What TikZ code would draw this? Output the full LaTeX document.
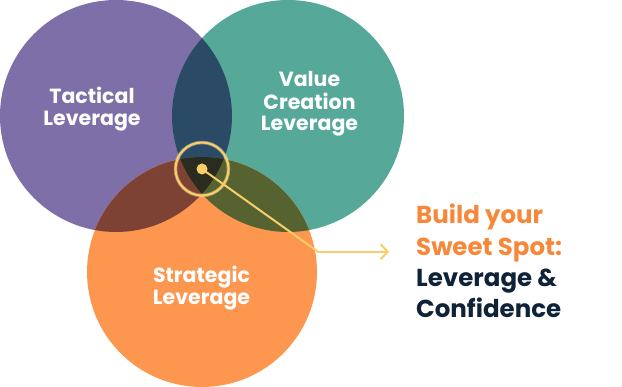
\documentclass[tikz,border=0pt]{standalone}
\usepackage{fontspec}
\setmainfont{Poppins}
\usetikzlibrary{arrows.meta}
\definecolor{purp}{HTML}{7E6FA8}
\definecolor{tealc}{HTML}{56A898}
\definecolor{orng}{HTML}{FD964F}
\definecolor{pt}{HTML}{2B4A65}
\definecolor{po}{HTML}{7E4235}
\definecolor{to}{HTML}{566330}
\definecolor{pto}{HTML}{2A2C20}
\definecolor{gold}{HTML}{F9CD68}
\definecolor{navy}{HTML}{0F2238}
\definecolor{otext}{HTML}{F7883A}
\tikzset{
  lbl/.style={text=white, font=\bfseries\fontsize{20.5}{22}\selectfont, anchor=base, inner sep=0},
  rtxt/.style={font=\bfseries\fontsize{24.5}{31}\selectfont, anchor=base west, inner sep=0},
  conn/.style={gold, line width=2pt, line join=round, line cap=round}
}
\begin{document}
\begin{tikzpicture}[x=1pt,y=-1pt]
\useasboundingbox (0,0) rectangle (622,387);
\coordinate (P) at (116,116);
\coordinate (T) at (288,116);
\coordinate (O) at (202,272);
\fill[purp] (P) circle (116);
\fill[tealc] (T) circle (116);
\fill[orng] (O) circle (115);
\begin{scope}
  \clip (P) circle (116);
  \fill[pt] (T) circle (116);
  \fill[po] (O) circle (115);
\end{scope}
\begin{scope}
  \clip (T) circle (116);
  \fill[to] (O) circle (115);
  \clip (O) circle (115);
  \fill[pto] (P) circle (116);
\end{scope}
% labels
\node[lbl] (tac1) at (92,104) {Tactical};
\node[lbl] (tac2) at (92,126) {Leverage};
\node[lbl] (val1) at (309.5,86.7) {Value};
\node[lbl] (val2) at (309.5,109.3) {Creation};
\node[lbl] (val3) at (309.5,130.7) {Leverage};
\node[lbl] (str1) at (201.5,282.3) {Strategic};
\node[lbl] (str2) at (201.5,304.3) {Leverage};
% sweet spot
\draw[gold!60, line width=3.5pt, opacity=0.45] (202,169) circle (26.5);
\node[circle, draw=gold, line width=2pt, minimum size=53pt, inner sep=0] (ring) at (202,169) {};
\node[circle, fill=gold, minimum size=11pt, inner sep=0] (dot) at (202,169) {};
\coordinate (bend) at (318,251.7);
\coordinate (tip) at (389,251.7);
\draw[conn] (dot.center) -- (bend);
\draw[conn, -{Straight Barb[length=7pt,width=15pt,line width=2pt]}] (bend) -- (tip);
% right text
\node[rtxt, text=otext] (b1) at (416,224) {Build your};
\node[rtxt, text=otext] (b2) at (416,256) {Sweet Spot:};
\node[rtxt, text=navy] (b3) at (416,287) {Leverage \&};
\node[rtxt, text=navy] (b4) at (416,318) {Confidence};
\end{tikzpicture}
\end{document}
